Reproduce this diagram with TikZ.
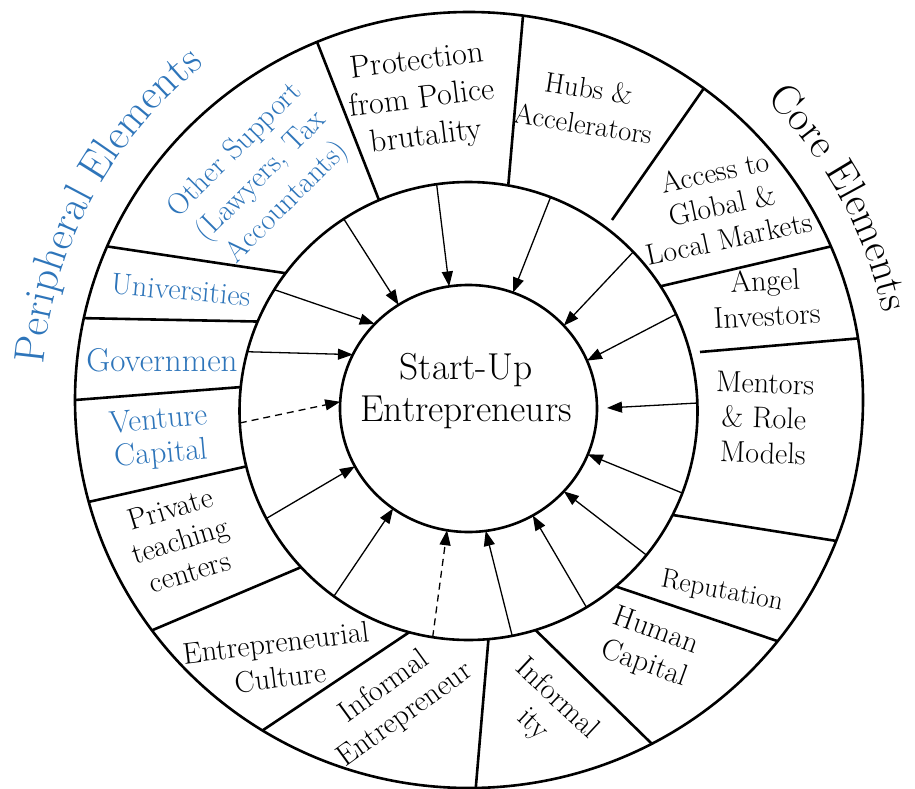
\documentclass[tikz,border=0pt]{standalone}
\usepackage{fontspec}
\usetikzlibrary{shapes.geometric,arrows.meta,decorations.text}
\definecolor{pblue}{RGB}{46,117,186}
\newcommand{\segsize}[2]{\fontsize{#1}{#2}\selectfont}
\begin{document}
\begin{tikzpicture}[x=1pt,y=1pt,
  ring/.style={draw, line width=2.6pt, inner sep=0pt, outer sep=0pt},
  divider/.style={line width=2.6pt},
  feed/.style={line width=1.3pt, -{Triangle[length=15pt,width=11pt]}},
  weakfeed/.style={feed, dash pattern=on 7pt off 5pt},
  seg/.style={font=\segsize{30}{35}, align=center, inner sep=0pt},
  peri/.style={seg, text=pblue}]
\useasboundingbox (0,0) rectangle (915,-789);

% three rings
\node[ring, ellipse, minimum width=788pt, minimum height=776pt] (outer) at (469,-400) {};
\node[ring, circle, minimum size=458pt] (mid) at (468.5,-411) {};
\node[ring, ellipse, minimum width=257pt, minimum height=247pt] (inner) at (468.5,-408.5) {};

\node[font=\segsize{37.5}{42}, align=center, inner sep=0pt] (su) at (466,-391) {Start-Up\\Entrepreneurs};

% dividers of the outer ring
\coordinate (d3) at (612,-220);
\coordinate (d5) at (700,-352);
\draw[divider] (outer.113.7) -- (mid.113.2);
\draw[divider] (outer.82) -- (mid.80.4);
\draw[divider] (outer.53.8) -- (d3);
\draw[divider] (outer.23.8) -- (mid.33.6);
\draw[divider] (outer.9.6) -- (d5);
\draw[divider] (outer.-21.6) -- (mid.-27.6);
\draw[divider] (outer.-38.1) -- (mid.-50.1);
\draw[divider] (outer.-62.6) -- (mid.-73.1);
\draw[divider] (outer.-89.4) -- (mid.-85.9);
\draw[divider] (outer.238.3) -- (mid.255);
\draw[divider] (outer.216.6) -- (mid.223);
\draw[divider] (outer.195.5) -- (mid.194.1);
\draw[divider] (outer.180) -- (mid.174);
\draw[divider] (outer.168.7) -- (mid.157.3);
\draw[divider] (outer.157.3) -- (mid.143.8);

% influences towards the centre
\draw[feed] (mid.123.6) -- (inner.124.6);
\draw[feed] (mid.98.9) -- (inner.99.4);
\draw[feed] (mid.148.7) -- (inner.138.2);
\draw[feed] (mid.165.3) -- (inner.155.7);
\draw[feed] (mid.69.8) -- (inner.69.1);
\draw[feed] (mid.44.6) -- (inner.41.6);
\draw[feed] (mid.25.1) -- (inner.22.6);
\draw[feed, shorten >=10pt] (mid.2) -- (inner.0);
\draw[feed] (mid.-21.8) -- (inner.-21.8);
\draw[feed] (mid.-39.9) -- (inner.-41.2);
\draw[feed] (mid.-59.8) -- (inner.-59.2);
\draw[feed] (mid.-79.5) -- (inner.-82.7);
\draw[weakfeed] (mid.261.6) -- (inner.260.4);
\draw[feed] (mid.234.2) -- (inner.233.5);
\draw[feed] (mid.208.5) -- (inner.207.3);
\draw[weakfeed] (mid.183) -- (inner.177.1);

% segment labels
\node[seg, font=\segsize{32}{38}, rotate=7] (prot) at (422,-100) {Protection\\from Police\\brutality};
\node[seg, font=\segsize{28.5}{36}, rotate=-9] (hubs) at (586,-106) {Hubs \&\\Accelerators};
\node[seg, font=\segsize{29.5}{34}, rotate=12] (acc) at (722,-205) {Access to\\Global \&\\Local Markets};
\node[seg, rotate=3] (angel) at (766,-298) {Angel\\Investors};
\node[seg, rotate=-2] (ment) at (764,-418) {Mentors\\\& Role\\Models};
\node[seg, font=\segsize{27.5}{34}, rotate=-11] (rep) at (722,-592) {Reputation};
\node[seg, rotate=-20] (hum) at (650,-648) {Human\\Capital};
\node[seg, rotate=-43] (infy) at (545,-712) {Informal\\ity};
\node[seg, rotate=36] (infe) at (395,-701) {Informal\\Entrepreneur};
\node[seg, rotate=7] (cult) at (278,-660) {Entrepreneurial\\Culture};
\node[seg, font=\segsize{30}{33}, rotate=17] (priv) at (180,-540) {Private\\teaching\\centers};
\node[peri, font=\segsize{31.5}{34}, rotate=5] (vc) at (160,-438) {Venture\\Capital};
\node[peri, font=\segsize{33}{36}] (gov) at (162,-360) {Governmen};
\node[peri, rotate=-5] (univ) at (181,-290) {Universities};
\node[peri, font=\segsize{30}{37}, rotate=45] (other) at (262,-177) {Other Support\\(Lawyers, Tax\\Accountants)};

% curved group titles
\path[decorate, decoration={text along path, text align=center, text color=pblue,
  text={|\segsize{43}{43}|Peripheral Elements}}]
  (469,-400) ++(185:427) arc[start angle=185, end angle=118.6, radius=427];
\path[decorate, decoration={text along path, text align=center,
  text={|\segsize{42}{42}|Core Elements}}]
  (469,-400) ++(61:423) arc[start angle=61, end angle=-3.8, radius=423];
\end{tikzpicture}
\end{document}
